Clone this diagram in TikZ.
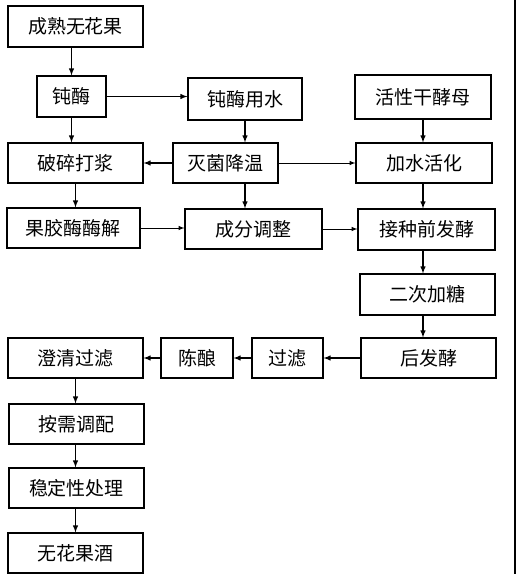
\documentclass[tikz,border=0pt]{standalone}
\usepackage{fontspec}
\setmainfont{Noto Sans CJK SC}
\usetikzlibrary{positioning}

\begin{document}
\begin{tikzpicture}[
    x=1pt, y=-1pt,
    stepbox/.style={rectangle, draw=black, line width=1.1pt, minimum height=40pt, inner sep=2pt, font=\fontsize{19}{21}\selectfont},
    arrow/.style={-latex, line width=1.4pt}
]
\useasboundingbox (0,0) rectangle (516,574);
\fill[black] (514,0) rectangle (516,574);

% Nodes
\node[stepbox, minimum width=135pt, minimum height=41pt] (fruit) at (75.5,26.5) {成熟无花果};
\node[stepbox, minimum width=69pt, minimum height=41pt] (dunmei) at (71.5,96.5) {钝酶};
\node[stepbox, minimum width=114pt, minimum height=42pt] (water) at (245,99) {钝酶用水};
\node[stepbox, minimum width=136pt, minimum height=44pt] (yeast) at (423,97) {活性干酵母};
\node[stepbox, minimum width=135pt] (posui) at (75.5,163) {破碎打浆};
\node[stepbox, minimum width=105pt] (mie) at (225.5,163) {灭菌降温};
\node[stepbox, minimum width=136pt] (huohua) at (424,163) {加水活化};
\node[stepbox, minimum width=133pt] (guojiao) at (73.5,228) {果胶酶酶解};
\node[stepbox, minimum width=137pt] (tiaozheng) at (253.5,229) {成分调整};
\node[stepbox, minimum width=137pt, minimum height=41pt] (jiezhong) at (426.5,229.5) {接种前发酵};
\node[stepbox, minimum width=135pt, minimum height=41pt] (erci) at (427.5,294.5) {二次加糖};
\node[stepbox, minimum width=135pt] (houfa) at (428.5,358) {后发酵};
\node[stepbox, minimum width=71pt] (guolv) at (287.5,358) {过滤};
\node[stepbox, minimum width=72pt] (chenniang) at (197,358) {陈酿};
\node[stepbox, minimum width=135pt] (chengqing) at (75.5,358) {澄清过滤};
\node[stepbox, minimum width=135pt] (anxu) at (76.5,424) {按需调配};
\node[stepbox, minimum width=135pt] (wending) at (76.5,488) {稳定性处理};
\node[stepbox, minimum width=135pt] (jiu) at (75.5,553) {无花果酒};

% Arrows
\draw[arrow] (dunmei.north |- fruit.south) -- (dunmei.north);
\draw[arrow] (dunmei.east) -- (dunmei.east -| water.west);
\draw[arrow] (dunmei.south) -- (dunmei.south |- posui.north);
\draw[arrow] (water.south) -- (water.south |- mie.north);
\draw[arrow] (yeast.south) -- (yeast.south |- huohua.north);
\draw[arrow] (mie.west) -- (posui.east);
\draw[arrow, line width=1pt] (mie.east) -- (huohua.west);
\draw[arrow] (posui.south) -- (posui.south |- guojiao.north);
\draw[arrow] (water.south |- mie.south) -- (water.south |- tiaozheng.north);
\draw[arrow] (yeast.south |- huohua.south) -- (yeast.south |- jiezhong.north);
\draw[arrow, line width=1pt] (guojiao.east) -- (guojiao.east -| tiaozheng.west);
\draw[arrow, line width=1pt] (tiaozheng.east) -- (tiaozheng.east -| jiezhong.west);
\draw[arrow] (yeast.south |- jiezhong.south) -- (yeast.south |- erci.north);
\draw[arrow] (yeast.south |- erci.south) -- (yeast.south |- houfa.north);
\draw[arrow] (houfa.west) -- (guolv.east);
\draw[arrow] (guolv.west) -- (chenniang.east);
\draw[arrow] (chenniang.west) -- (chengqing.east);
\draw[arrow] (chengqing.south) -- (chengqing.south |- anxu.north);
\draw[arrow] (chengqing.south |- anxu.south) -- (chengqing.south |- wending.north);
\draw[arrow] (chengqing.south |- wending.south) -- (chengqing.south |- jiu.north);

\end{tikzpicture}
\end{document}
